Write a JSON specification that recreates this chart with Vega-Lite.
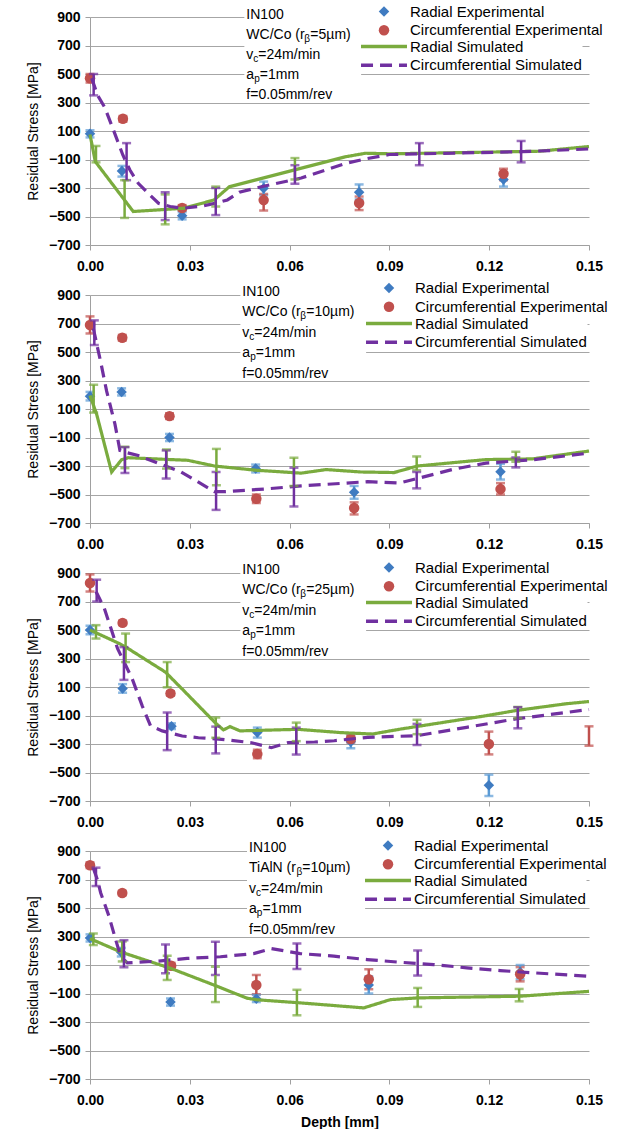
{
  "$schema": "https://vega.github.io/schema/vega-lite/v6.json",
  "padding": {"left": 26, "top": 4, "right": 0, "bottom": 0},
  "background": "white",
  "bounds": "flush",
  "spacing": 50,
  "datasets": {
    "points": [
      {"panel":1,"series":"Radial Experimental","depth":0,"stress":80},
      {"panel":1,"series":"Radial Experimental","depth":0.0096,"stress":-180},
      {"panel":1,"series":"Radial Experimental","depth":0.0277,"stress":-495},
      {"panel":1,"series":"Radial Experimental","depth":0.0522,"stress":-302},
      {"panel":1,"series":"Radial Experimental","depth":0.0809,"stress":-330},
      {"panel":1,"series":"Radial Experimental","depth":0.1243,"stress":-240},
      {"panel":1,"series":"Circumferential Experimental","depth":0,"stress":470},
      {"panel":1,"series":"Circumferential Experimental","depth":0.0099,"stress":186},
      {"panel":1,"series":"Circumferential Experimental","depth":0.0277,"stress":-440},
      {"panel":1,"series":"Circumferential Experimental","depth":0.0522,"stress":-385},
      {"panel":1,"series":"Circumferential Experimental","depth":0.0809,"stress":-405},
      {"panel":1,"series":"Circumferential Experimental","depth":0.1243,"stress":-200},
      {"panel":2,"series":"Radial Experimental","depth":0,"stress":190},
      {"panel":2,"series":"Radial Experimental","depth":0.0095,"stress":220},
      {"panel":2,"series":"Radial Experimental","depth":0.0239,"stress":-100},
      {"panel":2,"series":"Radial Experimental","depth":0.0498,"stress":-318},
      {"panel":2,"series":"Radial Experimental","depth":0.0794,"stress":-485},
      {"panel":2,"series":"Radial Experimental","depth":0.1234,"stress":-340},
      {"panel":2,"series":"Circumferential Experimental","depth":0,"stress":690},
      {"panel":2,"series":"Circumferential Experimental","depth":0.0097,"stress":600},
      {"panel":2,"series":"Circumferential Experimental","depth":0.0239,"stress":50},
      {"panel":2,"series":"Circumferential Experimental","depth":0.05,"stress":-530},
      {"panel":2,"series":"Circumferential Experimental","depth":0.0794,"stress":-595},
      {"panel":2,"series":"Circumferential Experimental","depth":0.1234,"stress":-462},
      {"panel":3,"series":"Radial Experimental","depth":0,"stress":500},
      {"panel":3,"series":"Radial Experimental","depth":0.0098,"stress":90},
      {"panel":3,"series":"Radial Experimental","depth":0.0245,"stress":-175},
      {"panel":3,"series":"Radial Experimental","depth":0.0503,"stress":-220},
      {"panel":3,"series":"Radial Experimental","depth":0.0784,"stress":-285},
      {"panel":3,"series":"Radial Experimental","depth":0.1199,"stress":-590},
      {"panel":3,"series":"Circumferential Experimental","depth":0,"stress":830},
      {"panel":3,"series":"Circumferential Experimental","depth":0.0098,"stress":550},
      {"panel":3,"series":"Circumferential Experimental","depth":0.0242,"stress":55},
      {"panel":3,"series":"Circumferential Experimental","depth":0.0503,"stress":-370},
      {"panel":3,"series":"Circumferential Experimental","depth":0.0784,"stress":-265},
      {"panel":3,"series":"Circumferential Experimental","depth":0.1199,"stress":-300},
      {"panel":4,"series":"Radial Experimental","depth":0,"stress":290},
      {"panel":4,"series":"Radial Experimental","depth":0.0094,"stress":190},
      {"panel":4,"series":"Radial Experimental","depth":0.0242,"stress":-160},
      {"panel":4,"series":"Radial Experimental","depth":0.05,"stress":-137},
      {"panel":4,"series":"Radial Experimental","depth":0.0838,"stress":-40},
      {"panel":4,"series":"Radial Experimental","depth":0.1293,"stress":50},
      {"panel":4,"series":"Circumferential Experimental","depth":0,"stress":800},
      {"panel":4,"series":"Circumferential Experimental","depth":0.0097,"stress":605},
      {"panel":4,"series":"Circumferential Experimental","depth":0.0244,"stress":95},
      {"panel":4,"series":"Circumferential Experimental","depth":0.05,"stress":-40},
      {"panel":4,"series":"Circumferential Experimental","depth":0.0838,"stress":0},
      {"panel":4,"series":"Circumferential Experimental","depth":0.1293,"stress":35}
    ],
    "errs": [
      {"panel":1,"series":"Radial Experimental","depth":0,"lo":55,"hi":105},
      {"panel":1,"series":"Radial Experimental","depth":0.0096,"lo":-220,"hi":-145},
      {"panel":1,"series":"Radial Experimental","depth":0.0277,"lo":-520,"hi":-470},
      {"panel":1,"series":"Radial Experimental","depth":0.0522,"lo":-350,"hi":-255},
      {"panel":1,"series":"Radial Experimental","depth":0.0809,"lo":-380,"hi":-275},
      {"panel":1,"series":"Radial Experimental","depth":0.1243,"lo":-290,"hi":-190},
      {"panel":1,"series":"Circumferential Experimental","depth":0,"lo":440,"hi":500},
      {"panel":1,"series":"Circumferential Experimental","depth":0.0099,"lo":165,"hi":205},
      {"panel":1,"series":"Circumferential Experimental","depth":0.0277,"lo":-460,"hi":-420},
      {"panel":1,"series":"Circumferential Experimental","depth":0.0522,"lo":-458,"hi":-342},
      {"panel":1,"series":"Circumferential Experimental","depth":0.0809,"lo":-455,"hi":-360},
      {"panel":1,"series":"Circumferential Experimental","depth":0.1243,"lo":-245,"hi":-165},
      {"panel":1,"series":"Radial Simulated","depth":0.0018,"lo":-120,"hi":-5},
      {"panel":1,"series":"Radial Simulated","depth":0.0104,"lo":-510,"hi":-245},
      {"panel":1,"series":"Radial Simulated","depth":0.0226,"lo":-555,"hi":-345},
      {"panel":1,"series":"Radial Simulated","depth":0.0378,"lo":-430,"hi":-290},
      {"panel":1,"series":"Radial Simulated","depth":0.0616,"lo":-240,"hi":-90},
      {"panel":1,"series":"Circumferential Simulated","depth":0.0011,"lo":350,"hi":500},
      {"panel":1,"series":"Circumferential Simulated","depth":0.011,"lo":-245,"hi":15},
      {"panel":1,"series":"Circumferential Simulated","depth":0.0226,"lo":-525,"hi":-330},
      {"panel":1,"series":"Circumferential Simulated","depth":0.0378,"lo":-490,"hi":-300},
      {"panel":1,"series":"Circumferential Simulated","depth":0.0616,"lo":-270,"hi":-140},
      {"panel":1,"series":"Circumferential Simulated","depth":0.099,"lo":-140,"hi":15},
      {"panel":1,"series":"Circumferential Simulated","depth":0.1296,"lo":-120,"hi":30},
      {"panel":2,"series":"Radial Experimental","depth":0,"lo":160,"hi":220},
      {"panel":2,"series":"Radial Experimental","depth":0.0095,"lo":195,"hi":245},
      {"panel":2,"series":"Radial Experimental","depth":0.0239,"lo":-125,"hi":-75},
      {"panel":2,"series":"Radial Experimental","depth":0.0498,"lo":-345,"hi":-290},
      {"panel":2,"series":"Radial Experimental","depth":0.0794,"lo":-530,"hi":-440},
      {"panel":2,"series":"Radial Experimental","depth":0.1234,"lo":-395,"hi":-285},
      {"panel":2,"series":"Circumferential Experimental","depth":0,"lo":630,"hi":750},
      {"panel":2,"series":"Circumferential Experimental","depth":0.0097,"lo":580,"hi":620},
      {"panel":2,"series":"Circumferential Experimental","depth":0.0239,"lo":30,"hi":70},
      {"panel":2,"series":"Circumferential Experimental","depth":0.05,"lo":-560,"hi":-500},
      {"panel":2,"series":"Circumferential Experimental","depth":0.0794,"lo":-640,"hi":-555},
      {"panel":2,"series":"Circumferential Experimental","depth":0.1234,"lo":-500,"hi":-420},
      {"panel":2,"series":"Radial Simulated","depth":0.0011,"lo":75,"hi":270},
      {"panel":2,"series":"Radial Simulated","depth":0.0105,"lo":-315,"hi":-165},
      {"panel":2,"series":"Radial Simulated","depth":0.023,"lo":-318,"hi":-184},
      {"panel":2,"series":"Radial Simulated","depth":0.038,"lo":-435,"hi":-180},
      {"panel":2,"series":"Radial Simulated","depth":0.0613,"lo":-440,"hi":-242},
      {"panel":2,"series":"Radial Simulated","depth":0.0982,"lo":-330,"hi":-233},
      {"panel":2,"series":"Radial Simulated","depth":0.128,"lo":-270,"hi":-200},
      {"panel":2,"series":"Circumferential Simulated","depth":0.0013,"lo":549,"hi":722},
      {"panel":2,"series":"Circumferential Simulated","depth":0.0105,"lo":-349,"hi":-168},
      {"panel":2,"series":"Circumferential Simulated","depth":0.0229,"lo":-388,"hi":-191},
      {"panel":2,"series":"Circumferential Simulated","depth":0.0379,"lo":-608,"hi":-342},
      {"panel":2,"series":"Circumferential Simulated","depth":0.0613,"lo":-584,"hi":-312},
      {"panel":2,"series":"Circumferential Simulated","depth":0.0982,"lo":-457,"hi":-342},
      {"panel":2,"series":"Circumferential Simulated","depth":0.128,"lo":-310,"hi":-240},
      {"panel":3,"series":"Radial Experimental","depth":0,"lo":470,"hi":530},
      {"panel":3,"series":"Radial Experimental","depth":0.0098,"lo":60,"hi":120},
      {"panel":3,"series":"Radial Experimental","depth":0.0245,"lo":-195,"hi":-155},
      {"panel":3,"series":"Radial Experimental","depth":0.0503,"lo":-255,"hi":-185},
      {"panel":3,"series":"Radial Experimental","depth":0.0784,"lo":-330,"hi":-240},
      {"panel":3,"series":"Radial Experimental","depth":0.1199,"lo":-665,"hi":-515},
      {"panel":3,"series":"Circumferential Experimental","depth":0,"lo":770,"hi":890},
      {"panel":3,"series":"Circumferential Experimental","depth":0.0098,"lo":535,"hi":565},
      {"panel":3,"series":"Circumferential Experimental","depth":0.0242,"lo":40,"hi":70},
      {"panel":3,"series":"Circumferential Experimental","depth":0.0503,"lo":-400,"hi":-340},
      {"panel":3,"series":"Circumferential Experimental","depth":0.0784,"lo":-290,"hi":-240},
      {"panel":3,"series":"Circumferential Experimental","depth":0.1199,"lo":-373,"hi":-213},
      {"panel":3,"series":"Circumferential Experimental","depth":0.15,"lo":-312,"hi":-176},
      {"panel":3,"series":"Radial Simulated","depth":0.0018,"lo":440,"hi":534},
      {"panel":3,"series":"Radial Simulated","depth":0.0107,"lo":275,"hi":475},
      {"panel":3,"series":"Radial Simulated","depth":0.0232,"lo":98,"hi":275},
      {"panel":3,"series":"Radial Simulated","depth":0.0378,"lo":-256,"hi":-114},
      {"panel":3,"series":"Radial Simulated","depth":0.062,"lo":-280,"hi":-150},
      {"panel":3,"series":"Radial Simulated","depth":0.0983,"lo":-231,"hi":-130},
      {"panel":3,"series":"Radial Simulated","depth":0.1286,"lo":-120,"hi":-40},
      {"panel":3,"series":"Circumferential Simulated","depth":0.002,"lo":700,"hi":853},
      {"panel":3,"series":"Circumferential Simulated","depth":0.0102,"lo":150,"hi":380},
      {"panel":3,"series":"Circumferential Simulated","depth":0.0232,"lo":-343,"hi":-79},
      {"panel":3,"series":"Circumferential Simulated","depth":0.0378,"lo":-366,"hi":-178},
      {"panel":3,"series":"Circumferential Simulated","depth":0.062,"lo":-374,"hi":-185},
      {"panel":3,"series":"Circumferential Simulated","depth":0.0983,"lo":-307,"hi":-159},
      {"panel":3,"series":"Circumferential Simulated","depth":0.1286,"lo":-190,"hi":-42},
      {"panel":4,"series":"Radial Experimental","depth":0,"lo":265,"hi":315},
      {"panel":4,"series":"Radial Experimental","depth":0.0094,"lo":160,"hi":220},
      {"panel":4,"series":"Radial Experimental","depth":0.0242,"lo":-185,"hi":-135},
      {"panel":4,"series":"Radial Experimental","depth":0.05,"lo":-160,"hi":-110},
      {"panel":4,"series":"Radial Experimental","depth":0.0838,"lo":-100,"hi":20},
      {"panel":4,"series":"Radial Experimental","depth":0.1293,"lo":0,"hi":100},
      {"panel":4,"series":"Circumferential Experimental","depth":0,"lo":780,"hi":820},
      {"panel":4,"series":"Circumferential Experimental","depth":0.0097,"lo":590,"hi":620},
      {"panel":4,"series":"Circumferential Experimental","depth":0.0244,"lo":75,"hi":115},
      {"panel":4,"series":"Circumferential Experimental","depth":0.05,"lo":-105,"hi":30},
      {"panel":4,"series":"Circumferential Experimental","depth":0.0838,"lo":-70,"hi":70},
      {"panel":4,"series":"Circumferential Experimental","depth":0.1293,"lo":-15,"hi":85},
      {"panel":4,"series":"Radial Simulated","depth":0.001,"lo":240,"hi":321},
      {"panel":4,"series":"Radial Simulated","depth":0.0097,"lo":125,"hi":265},
      {"panel":4,"series":"Radial Simulated","depth":0.0232,"lo":-5,"hi":165},
      {"panel":4,"series":"Radial Simulated","depth":0.0377,"lo":-160,"hi":88},
      {"panel":4,"series":"Radial Simulated","depth":0.0622,"lo":-253,"hi":-74},
      {"panel":4,"series":"Radial Simulated","depth":0.0985,"lo":-194,"hi":-61},
      {"panel":4,"series":"Radial Simulated","depth":0.129,"lo":-155,"hi":-68},
      {"panel":4,"series":"Circumferential Simulated","depth":0.0018,"lo":654,"hi":783},
      {"panel":4,"series":"Circumferential Simulated","depth":0.0102,"lo":84,"hi":274},
      {"panel":4,"series":"Circumferential Simulated","depth":0.0227,"lo":42,"hi":244},
      {"panel":4,"series":"Circumferential Simulated","depth":0.0377,"lo":30,"hi":263},
      {"panel":4,"series":"Circumferential Simulated","depth":0.0622,"lo":72,"hi":251},
      {"panel":4,"series":"Circumferential Simulated","depth":0.0985,"lo":26,"hi":202}
    ],
    "lines": [
      {"panel":1,"series":"Radial Simulated","depth":0,"stress":75},
      {"panel":1,"series":"Radial Simulated","depth":0.0016,"stress":-115},
      {"panel":1,"series":"Radial Simulated","depth":0.013,"stress":-465},
      {"panel":1,"series":"Radial Simulated","depth":0.0282,"stress":-442},
      {"panel":1,"series":"Radial Simulated","depth":0.0373,"stress":-384},
      {"panel":1,"series":"Radial Simulated","depth":0.0419,"stress":-291},
      {"panel":1,"series":"Radial Simulated","depth":0.0768,"stress":-81},
      {"panel":1,"series":"Radial Simulated","depth":0.0828,"stress":-56},
      {"panel":1,"series":"Radial Simulated","depth":0.0905,"stress":-60},
      {"panel":1,"series":"Radial Simulated","depth":0.135,"stress":-42},
      {"panel":1,"series":"Radial Simulated","depth":0.15,"stress":-9},
      {"panel":1,"series":"Circumferential Simulated","depth":0.0005,"stress":470},
      {"panel":1,"series":"Circumferential Simulated","depth":0.0023,"stress":350},
      {"panel":1,"series":"Circumferential Simulated","depth":0.0044,"stress":267},
      {"panel":1,"series":"Circumferential Simulated","depth":0.0069,"stress":116},
      {"panel":1,"series":"Circumferential Simulated","depth":0.0099,"stress":-70},
      {"panel":1,"series":"Circumferential Simulated","depth":0.012,"stress":-174},
      {"panel":1,"series":"Circumferential Simulated","depth":0.0145,"stress":-267},
      {"panel":1,"series":"Circumferential Simulated","depth":0.018,"stress":-349},
      {"panel":1,"series":"Circumferential Simulated","depth":0.0206,"stress":-407},
      {"panel":1,"series":"Circumferential Simulated","depth":0.0241,"stress":-430},
      {"panel":1,"series":"Circumferential Simulated","depth":0.028,"stress":-442},
      {"panel":1,"series":"Circumferential Simulated","depth":0.034,"stress":-426},
      {"panel":1,"series":"Circumferential Simulated","depth":0.038,"stress":-405},
      {"panel":1,"series":"Circumferential Simulated","depth":0.0413,"stress":-384},
      {"panel":1,"series":"Circumferential Simulated","depth":0.0449,"stress":-330},
      {"panel":1,"series":"Circumferential Simulated","depth":0.0515,"stress":-291},
      {"panel":1,"series":"Circumferential Simulated","depth":0.0635,"stress":-230},
      {"panel":1,"series":"Circumferential Simulated","depth":0.0768,"stress":-128},
      {"panel":1,"series":"Circumferential Simulated","depth":0.0828,"stress":-96},
      {"panel":1,"series":"Circumferential Simulated","depth":0.09,"stress":-65},
      {"panel":1,"series":"Circumferential Simulated","depth":0.13,"stress":-45},
      {"panel":1,"series":"Circumferential Simulated","depth":0.15,"stress":-26},
      {"panel":2,"series":"Radial Simulated","depth":0,"stress":195},
      {"panel":2,"series":"Radial Simulated","depth":0.002,"stress":63},
      {"panel":2,"series":"Radial Simulated","depth":0.0065,"stress":-342},
      {"panel":2,"series":"Radial Simulated","depth":0.0095,"stress":-256},
      {"panel":2,"series":"Radial Simulated","depth":0.0115,"stress":-242},
      {"panel":2,"series":"Radial Simulated","depth":0.0294,"stress":-260},
      {"panel":2,"series":"Radial Simulated","depth":0.0374,"stress":-300},
      {"panel":2,"series":"Radial Simulated","depth":0.05,"stress":-330},
      {"panel":2,"series":"Radial Simulated","depth":0.0635,"stress":-350},
      {"panel":2,"series":"Radial Simulated","depth":0.071,"stress":-325},
      {"panel":2,"series":"Radial Simulated","depth":0.0814,"stress":-342},
      {"panel":2,"series":"Radial Simulated","depth":0.0914,"stress":-346},
      {"panel":2,"series":"Radial Simulated","depth":0.0984,"stress":-300},
      {"panel":2,"series":"Radial Simulated","depth":0.119,"stress":-255},
      {"panel":2,"series":"Radial Simulated","depth":0.133,"stress":-250},
      {"panel":2,"series":"Radial Simulated","depth":0.15,"stress":-195},
      {"panel":2,"series":"Circumferential Simulated","depth":0.001,"stress":665},
      {"panel":2,"series":"Circumferential Simulated","depth":0.0033,"stress":421},
      {"panel":2,"series":"Circumferential Simulated","depth":0.005,"stress":225},
      {"panel":2,"series":"Circumferential Simulated","depth":0.0075,"stress":-6},
      {"panel":2,"series":"Circumferential Simulated","depth":0.009,"stress":-191},
      {"panel":2,"series":"Circumferential Simulated","depth":0.0105,"stress":-203},
      {"panel":2,"series":"Circumferential Simulated","depth":0.0145,"stress":-226},
      {"panel":2,"series":"Circumferential Simulated","depth":0.0209,"stress":-284},
      {"panel":2,"series":"Circumferential Simulated","depth":0.0274,"stress":-342},
      {"panel":2,"series":"Circumferential Simulated","depth":0.0374,"stress":-480},
      {"panel":2,"series":"Circumferential Simulated","depth":0.0404,"stress":-480},
      {"panel":2,"series":"Circumferential Simulated","depth":0.0533,"stress":-460},
      {"panel":2,"series":"Circumferential Simulated","depth":0.0635,"stress":-440},
      {"panel":2,"series":"Circumferential Simulated","depth":0.0835,"stress":-410},
      {"panel":2,"series":"Circumferential Simulated","depth":0.093,"stress":-420},
      {"panel":2,"series":"Circumferential Simulated","depth":0.0975,"stress":-393},
      {"panel":2,"series":"Circumferential Simulated","depth":0.109,"stress":-324},
      {"panel":2,"series":"Circumferential Simulated","depth":0.119,"stress":-280},
      {"panel":2,"series":"Circumferential Simulated","depth":0.133,"stress":-256},
      {"panel":2,"series":"Circumferential Simulated","depth":0.15,"stress":-210},
      {"panel":3,"series":"Radial Simulated","depth":0,"stress":500},
      {"panel":3,"series":"Radial Simulated","depth":0.0088,"stress":405},
      {"panel":3,"series":"Radial Simulated","depth":0.0107,"stress":381},
      {"panel":3,"series":"Radial Simulated","depth":0.0227,"stress":204},
      {"panel":3,"series":"Radial Simulated","depth":0.0277,"stress":86},
      {"panel":3,"series":"Radial Simulated","depth":0.0376,"stress":-150},
      {"panel":3,"series":"Radial Simulated","depth":0.0401,"stress":-201},
      {"panel":3,"series":"Radial Simulated","depth":0.0421,"stress":-178},
      {"panel":3,"series":"Radial Simulated","depth":0.0451,"stress":-208},
      {"panel":3,"series":"Radial Simulated","depth":0.0625,"stress":-197},
      {"panel":3,"series":"Radial Simulated","depth":0.0754,"stress":-220},
      {"panel":3,"series":"Radial Simulated","depth":0.0849,"stress":-230},
      {"panel":3,"series":"Radial Simulated","depth":0.0934,"stress":-195},
      {"panel":3,"series":"Radial Simulated","depth":0.1192,"stress":-101},
      {"panel":3,"series":"Radial Simulated","depth":0.1281,"stress":-65},
      {"panel":3,"series":"Radial Simulated","depth":0.143,"stress":-18},
      {"panel":3,"series":"Radial Simulated","depth":0.15,"stress":-2},
      {"panel":3,"series":"Circumferential Simulated","depth":0.0018,"stress":770},
      {"panel":3,"series":"Circumferential Simulated","depth":0.0043,"stress":652},
      {"panel":3,"series":"Circumferential Simulated","depth":0.0083,"stress":369},
      {"panel":3,"series":"Circumferential Simulated","depth":0.0127,"stress":157},
      {"panel":3,"series":"Circumferential Simulated","depth":0.0157,"stress":-32},
      {"panel":3,"series":"Circumferential Simulated","depth":0.0182,"stress":-173},
      {"panel":3,"series":"Circumferential Simulated","depth":0.0217,"stress":-208},
      {"panel":3,"series":"Circumferential Simulated","depth":0.0277,"stress":-244},
      {"panel":3,"series":"Circumferential Simulated","depth":0.0326,"stress":-256},
      {"panel":3,"series":"Circumferential Simulated","depth":0.0396,"stress":-267},
      {"panel":3,"series":"Circumferential Simulated","depth":0.0486,"stress":-291},
      {"panel":3,"series":"Circumferential Simulated","depth":0.0545,"stress":-326},
      {"panel":3,"series":"Circumferential Simulated","depth":0.0595,"stress":-291},
      {"panel":3,"series":"Circumferential Simulated","depth":0.0675,"stress":-286},
      {"panel":3,"series":"Circumferential Simulated","depth":0.0734,"stress":-277},
      {"panel":3,"series":"Circumferential Simulated","depth":0.0834,"stress":-253},
      {"panel":3,"series":"Circumferential Simulated","depth":0.0983,"stress":-242},
      {"panel":3,"series":"Circumferential Simulated","depth":0.1132,"stress":-183},
      {"panel":3,"series":"Circumferential Simulated","depth":0.128,"stress":-124},
      {"panel":3,"series":"Circumferential Simulated","depth":0.15,"stress":-58},
      {"panel":4,"series":"Radial Simulated","depth":0,"stress":285},
      {"panel":4,"series":"Radial Simulated","depth":0.0094,"stress":190},
      {"panel":4,"series":"Radial Simulated","depth":0.0242,"stress":77},
      {"panel":4,"series":"Radial Simulated","depth":0.0372,"stress":-40},
      {"panel":4,"series":"Radial Simulated","depth":0.0472,"stress":-133},
      {"panel":4,"series":"Radial Simulated","depth":0.0502,"stress":-144},
      {"panel":4,"series":"Radial Simulated","depth":0.0633,"stress":-166},
      {"panel":4,"series":"Radial Simulated","depth":0.0823,"stress":-201},
      {"panel":4,"series":"Radial Simulated","depth":0.0903,"stress":-143},
      {"panel":4,"series":"Radial Simulated","depth":0.0983,"stress":-131},
      {"panel":4,"series":"Radial Simulated","depth":0.1293,"stress":-119},
      {"panel":4,"series":"Radial Simulated","depth":0.15,"stress":-85},
      {"panel":4,"series":"Circumferential Simulated","depth":0.001,"stress":780},
      {"panel":4,"series":"Circumferential Simulated","depth":0.0022,"stress":700},
      {"panel":4,"series":"Circumferential Simulated","depth":0.0032,"stress":607},
      {"panel":4,"series":"Circumferential Simulated","depth":0.0057,"stress":443},
      {"panel":4,"series":"Circumferential Simulated","depth":0.0077,"stress":279},
      {"panel":4,"series":"Circumferential Simulated","depth":0.0092,"stress":162},
      {"panel":4,"series":"Circumferential Simulated","depth":0.0112,"stress":115},
      {"panel":4,"series":"Circumferential Simulated","depth":0.0202,"stress":127},
      {"panel":4,"series":"Circumferential Simulated","depth":0.0292,"stress":146},
      {"panel":4,"series":"Circumferential Simulated","depth":0.0392,"stress":158},
      {"panel":4,"series":"Circumferential Simulated","depth":0.0492,"stress":180},
      {"panel":4,"series":"Circumferential Simulated","depth":0.0545,"stress":215},
      {"panel":4,"series":"Circumferential Simulated","depth":0.0632,"stress":180},
      {"panel":4,"series":"Circumferential Simulated","depth":0.0733,"stress":162},
      {"panel":4,"series":"Circumferential Simulated","depth":0.0833,"stress":138},
      {"panel":4,"series":"Circumferential Simulated","depth":0.0933,"stress":119},
      {"panel":4,"series":"Circumferential Simulated","depth":0.1033,"stress":103},
      {"panel":4,"series":"Circumferential Simulated","depth":0.1133,"stress":80},
      {"panel":4,"series":"Circumferential Simulated","depth":0.1233,"stress":61},
      {"panel":4,"series":"Circumferential Simulated","depth":0.1333,"stress":45},
      {"panel":4,"series":"Circumferential Simulated","depth":0.15,"stress":21}
    ]
  },
  "vconcat": [
    {
      "width": 499, "height": 228,
      "layer": [
        {"data": {"values": [{}]}, "mark": {"type": "rect", "color": "white"},
         "encoding": {"x": {"datum": 0.0464, "type": "quantitative"}, "x2": {"datum": 0.0815}, "y": {"datum": 325, "type": "quantitative"}, "y2": {"datum": 915}}},
        {"data": {"values": [{}]}, "mark": {"type": "rect", "color": "white"},
         "encoding": {"x": {"datum": 0.081, "type": "quantitative"}, "x2": {"datum": 0.087}, "y": {"datum": 560, "type": "quantitative"}, "y2": {"datum": 915}}},
        {"data": {"name": "errs"}, "transform": [{"filter": "datum.panel == 1 && indexof(datum.series, 'Experimental') >= 0"}],
         "mark": {"type": "errorbar", "ticks": {"size": 9, "thickness": 2.5}, "rule": {"strokeWidth": 2.5}},
         "encoding": {
           "x": {"field": "depth", "type": "quantitative", "title": null, "scale": {"domain": [0, 0.15], "nice": false}, "axis": {"values": [0, 0.03, 0.06, 0.09, 0.12, 0.15], "format": ".2f", "labelOverlap": false, "labelFlush": false}},
           "y": {"field": "lo", "type": "quantitative", "title": "Residual Stress [MPa]", "scale": {"domain": [-700, 900], "nice": false}, "axis": {"values": [-700, -500, -300, -100, 100, 300, 500, 700, 900], "format": "d", "labelOverlap": false, "tickCount": 9}},
           "y2": {"field": "hi"},
           "color": {"field": "series", "type": "nominal", "legend": null, "scale": {"domain": ["Radial Experimental", "Circumferential Experimental", "Radial Simulated", "Circumferential Simulated"], "range": ["#5b9bd5", "#c0504d", "#7aab3e", "#7030a0"]}}}},
        {"data": {"name": "points"}, "transform": [{"filter": "datum.panel == 1"}],
         "mark": {"type": "point", "filled": true, "opacity": 1, "size": 110, "strokeWidth": 0},
         "encoding": {
           "x": {"field": "depth", "type": "quantitative", "title": null},
           "y": {"field": "stress", "type": "quantitative", "title": "Residual Stress [MPa]"},
           "fill": {"field": "series", "type": "nominal", "scale": {"domain": ["Radial Experimental", "Circumferential Experimental"], "range": ["#3f7bc1", "#c0504d"]}, "legend": {"orient": "none", "legendX": 286.5, "legendY": -13, "title": null, "symbolSize": 110, "symbolStrokeWidth": 0}},
           "shape": {"field": "series", "type": "nominal", "scale": {"domain": ["Radial Experimental", "Circumferential Experimental"], "range": ["diamond", "circle"]}, "legend": {"orient": "none", "legendX": 286.5, "legendY": -13, "title": null, "symbolSize": 110, "symbolStrokeWidth": 0}}}},
        {"data": {"name": "lines"}, "transform": [{"filter": "datum.panel == 1"}],
         "mark": {"type": "line", "strokeWidth": 3.2},
         "encoding": {
           "x": {"field": "depth", "type": "quantitative", "title": null},
           "y": {"field": "stress", "type": "quantitative", "title": "Residual Stress [MPa]"},
           "stroke": {"field": "series", "type": "nominal", "scale": {"domain": ["Radial Simulated", "Circumferential Simulated"], "range": ["#7aab3e", "#7030a0"]}, "legend": {"orient": "none", "legendX": 286.5, "legendY": 22, "title": null, "symbolType": "M-4,0H4", "symbolSize": 132, "symbolStrokeWidth": 3.5}},
           "strokeDash": {"field": "series", "type": "nominal", "scale": {"domain": ["Radial Simulated", "Circumferential Simulated"], "range": [[1, 0], [12, 7]]}, "legend": {"orient": "none", "legendX": 286.5, "legendY": 22, "title": null, "symbolType": "M-4,0H4", "symbolSize": 132, "symbolStrokeWidth": 3.5}}}},
        {"data": {"name": "errs"}, "transform": [{"filter": "datum.panel == 1 && indexof(datum.series, 'Simulated') >= 0"}],
         "mark": {"type": "errorbar", "ticks": {"size": 9, "thickness": 2.5}, "rule": {"strokeWidth": 2.5}},
         "encoding": {
           "x": {"field": "depth", "type": "quantitative", "title": null},
           "y": {"field": "lo", "type": "quantitative", "title": "Residual Stress [MPa]"},
           "y2": {"field": "hi"},
           "color": {"field": "series", "type": "nominal", "legend": null}}},
        {"data": {"values": [{}]}, "mark": {"type": "text", "text": ["IN100", "WC/Co (r", "v", "a", "f=0.05mm/rev"], "align": "left", "baseline": "alphabetic", "dy": 2, "lineHeight": 20, "fontSize": 14, "color": "black"},
         "encoding": {"x": {"datum": 0.047, "type": "quantitative"}, "y": {"datum": 900, "type": "quantitative"}}},
        {"data": {"values": [{}]}, "mark": {"type": "text", "text": "β", "align": "left", "baseline": "alphabetic", "dx": 58, "dy": 25, "fontSize": 10, "color": "black"},
         "encoding": {"x": {"datum": 0.047, "type": "quantitative"}, "y": {"datum": 900, "type": "quantitative"}}},
        {"data": {"values": [{}]}, "mark": {"type": "text", "text": "=5µm)", "align": "left", "baseline": "alphabetic", "dx": 64, "dy": 22, "fontSize": 14, "color": "black"},
         "encoding": {"x": {"datum": 0.047, "type": "quantitative"}, "y": {"datum": 900, "type": "quantitative"}}},
        {"data": {"values": [{}]}, "mark": {"type": "text", "text": "c", "align": "left", "baseline": "alphabetic", "dx": 7, "dy": 45, "fontSize": 10, "color": "black"},
         "encoding": {"x": {"datum": 0.047, "type": "quantitative"}, "y": {"datum": 900, "type": "quantitative"}}},
        {"data": {"values": [{}]}, "mark": {"type": "text", "text": "=24m/min", "align": "left", "baseline": "alphabetic", "dx": 12, "dy": 42, "fontSize": 14, "color": "black"},
         "encoding": {"x": {"datum": 0.047, "type": "quantitative"}, "y": {"datum": 900, "type": "quantitative"}}},
        {"data": {"values": [{}]}, "mark": {"type": "text", "text": "p", "align": "left", "baseline": "alphabetic", "dx": 7.8, "dy": 65, "fontSize": 10, "color": "black"},
         "encoding": {"x": {"datum": 0.047, "type": "quantitative"}, "y": {"datum": 900, "type": "quantitative"}}},
        {"data": {"values": [{}]}, "mark": {"type": "text", "text": "=1mm", "align": "left", "baseline": "alphabetic", "dx": 13.4, "dy": 62, "fontSize": 14, "color": "black"},
         "encoding": {"x": {"datum": 0.047, "type": "quantitative"}, "y": {"datum": 900, "type": "quantitative"}}}
      ]
    },
    {
      "width": 499, "height": 228,
      "layer": [
        {"data": {"values": [{}]}, "mark": {"type": "rect", "color": "white"},
         "encoding": {"x": {"datum": 0.0452, "type": "quantitative"}, "x2": {"datum": 0.083}, "y": {"datum": 325, "type": "quantitative"}, "y2": {"datum": 915}}},
        {"data": {"values": [{}]}, "mark": {"type": "rect", "color": "white"},
         "encoding": {"x": {"datum": 0.0825, "type": "quantitative"}, "x2": {"datum": 0.0885}, "y": {"datum": 560, "type": "quantitative"}, "y2": {"datum": 915}}},
        {"data": {"name": "errs"}, "transform": [{"filter": "datum.panel == 2 && indexof(datum.series, 'Experimental') >= 0"}],
         "mark": {"type": "errorbar", "ticks": {"size": 9, "thickness": 2.5}, "rule": {"strokeWidth": 2.5}},
         "encoding": {
           "x": {"field": "depth", "type": "quantitative", "title": null, "scale": {"domain": [0, 0.15], "nice": false}, "axis": {"values": [0, 0.03, 0.06, 0.09, 0.12, 0.15], "format": ".2f", "labelOverlap": false, "labelFlush": false}},
           "y": {"field": "lo", "type": "quantitative", "title": "Residual Stress [MPa]", "scale": {"domain": [-700, 900], "nice": false}, "axis": {"values": [-700, -500, -300, -100, 100, 300, 500, 700, 900], "format": "d", "labelOverlap": false, "tickCount": 9}},
           "y2": {"field": "hi"},
           "color": {"field": "series", "type": "nominal", "legend": null, "scale": {"domain": ["Radial Experimental", "Circumferential Experimental", "Radial Simulated", "Circumferential Simulated"], "range": ["#5b9bd5", "#c0504d", "#7aab3e", "#7030a0"]}}}},
        {"data": {"name": "points"}, "transform": [{"filter": "datum.panel == 2"}],
         "mark": {"type": "point", "filled": true, "opacity": 1, "size": 110, "strokeWidth": 0},
         "encoding": {
           "x": {"field": "depth", "type": "quantitative", "title": null},
           "y": {"field": "stress", "type": "quantitative", "title": "Residual Stress [MPa]"},
           "fill": {"field": "series", "type": "nominal", "scale": {"domain": ["Radial Experimental", "Circumferential Experimental"], "range": ["#3f7bc1", "#c0504d"]}, "legend": {"orient": "none", "legendX": 291.5, "legendY": -14.5, "title": null, "symbolSize": 110, "symbolStrokeWidth": 0}},
           "shape": {"field": "series", "type": "nominal", "scale": {"domain": ["Radial Experimental", "Circumferential Experimental"], "range": ["diamond", "circle"]}, "legend": {"orient": "none", "legendX": 291.5, "legendY": -14.5, "title": null, "symbolSize": 110, "symbolStrokeWidth": 0}}}},
        {"data": {"name": "lines"}, "transform": [{"filter": "datum.panel == 2"}],
         "mark": {"type": "line", "strokeWidth": 3.2},
         "encoding": {
           "x": {"field": "depth", "type": "quantitative", "title": null},
           "y": {"field": "stress", "type": "quantitative", "title": "Residual Stress [MPa]"},
           "stroke": {"field": "series", "type": "nominal", "scale": {"domain": ["Radial Simulated", "Circumferential Simulated"], "range": ["#7aab3e", "#7030a0"]}, "legend": {"orient": "none", "legendX": 291.5, "legendY": 21, "title": null, "symbolType": "M-4,0H4", "symbolSize": 132, "symbolStrokeWidth": 3.5}},
           "strokeDash": {"field": "series", "type": "nominal", "scale": {"domain": ["Radial Simulated", "Circumferential Simulated"], "range": [[1, 0], [12, 7]]}, "legend": {"orient": "none", "legendX": 291.5, "legendY": 21, "title": null, "symbolType": "M-4,0H4", "symbolSize": 132, "symbolStrokeWidth": 3.5}}}},
        {"data": {"name": "errs"}, "transform": [{"filter": "datum.panel == 2 && indexof(datum.series, 'Simulated') >= 0"}],
         "mark": {"type": "errorbar", "ticks": {"size": 9, "thickness": 2.5}, "rule": {"strokeWidth": 2.5}},
         "encoding": {
           "x": {"field": "depth", "type": "quantitative", "title": null},
           "y": {"field": "lo", "type": "quantitative", "title": "Residual Stress [MPa]"},
           "y2": {"field": "hi"},
           "color": {"field": "series", "type": "nominal", "legend": null}}},
        {"data": {"values": [{}]}, "mark": {"type": "text", "text": ["IN100", "WC/Co (r", "v", "a", "f=0.05mm/rev"], "align": "left", "baseline": "alphabetic", "dy": 1, "lineHeight": 20.4, "fontSize": 14, "color": "black"},
         "encoding": {"x": {"datum": 0.0458, "type": "quantitative"}, "y": {"datum": 900, "type": "quantitative"}}},
        {"data": {"values": [{}]}, "mark": {"type": "text", "text": "β", "align": "left", "baseline": "alphabetic", "dx": 58, "dy": 24.4, "fontSize": 10, "color": "black"},
         "encoding": {"x": {"datum": 0.0458, "type": "quantitative"}, "y": {"datum": 900, "type": "quantitative"}}},
        {"data": {"values": [{}]}, "mark": {"type": "text", "text": "=10µm)", "align": "left", "baseline": "alphabetic", "dx": 64, "dy": 21.4, "fontSize": 14, "color": "black"},
         "encoding": {"x": {"datum": 0.0458, "type": "quantitative"}, "y": {"datum": 900, "type": "quantitative"}}},
        {"data": {"values": [{}]}, "mark": {"type": "text", "text": "c", "align": "left", "baseline": "alphabetic", "dx": 7, "dy": 44.8, "fontSize": 10, "color": "black"},
         "encoding": {"x": {"datum": 0.0458, "type": "quantitative"}, "y": {"datum": 900, "type": "quantitative"}}},
        {"data": {"values": [{}]}, "mark": {"type": "text", "text": "=24m/min", "align": "left", "baseline": "alphabetic", "dx": 12, "dy": 41.8, "fontSize": 14, "color": "black"},
         "encoding": {"x": {"datum": 0.0458, "type": "quantitative"}, "y": {"datum": 900, "type": "quantitative"}}},
        {"data": {"values": [{}]}, "mark": {"type": "text", "text": "p", "align": "left", "baseline": "alphabetic", "dx": 7.8, "dy": 65.2, "fontSize": 10, "color": "black"},
         "encoding": {"x": {"datum": 0.0458, "type": "quantitative"}, "y": {"datum": 900, "type": "quantitative"}}},
        {"data": {"values": [{}]}, "mark": {"type": "text", "text": "=1mm", "align": "left", "baseline": "alphabetic", "dx": 13.4, "dy": 62.2, "fontSize": 14, "color": "black"},
         "encoding": {"x": {"datum": 0.0458, "type": "quantitative"}, "y": {"datum": 900, "type": "quantitative"}}}
      ]
    },
    {
      "width": 499, "height": 228,
      "layer": [
        {"data": {"values": [{}]}, "mark": {"type": "rect", "color": "white"},
         "encoding": {"x": {"datum": 0.0452, "type": "quantitative"}, "x2": {"datum": 0.083}, "y": {"datum": 325, "type": "quantitative"}, "y2": {"datum": 915}}},
        {"data": {"values": [{}]}, "mark": {"type": "rect", "color": "white"},
         "encoding": {"x": {"datum": 0.0825, "type": "quantitative"}, "x2": {"datum": 0.0885}, "y": {"datum": 560, "type": "quantitative"}, "y2": {"datum": 915}}},
        {"data": {"name": "errs"}, "transform": [{"filter": "datum.panel == 3 && indexof(datum.series, 'Experimental') >= 0"}],
         "mark": {"type": "errorbar", "ticks": {"size": 9, "thickness": 2.5}, "rule": {"strokeWidth": 2.5}},
         "encoding": {
           "x": {"field": "depth", "type": "quantitative", "title": null, "scale": {"domain": [0, 0.15], "nice": false}, "axis": {"values": [0, 0.03, 0.06, 0.09, 0.12, 0.15], "format": ".2f", "labelOverlap": false, "labelFlush": false}},
           "y": {"field": "lo", "type": "quantitative", "title": "Residual Stress [MPa]", "scale": {"domain": [-700, 900], "nice": false}, "axis": {"values": [-700, -500, -300, -100, 100, 300, 500, 700, 900], "format": "d", "labelOverlap": false, "tickCount": 9}},
           "y2": {"field": "hi"},
           "color": {"field": "series", "type": "nominal", "legend": null, "scale": {"domain": ["Radial Experimental", "Circumferential Experimental", "Radial Simulated", "Circumferential Simulated"], "range": ["#5b9bd5", "#c0504d", "#7aab3e", "#7030a0"]}}}},
        {"data": {"name": "points"}, "transform": [{"filter": "datum.panel == 3"}],
         "mark": {"type": "point", "filled": true, "opacity": 1, "size": 110, "strokeWidth": 0},
         "encoding": {
           "x": {"field": "depth", "type": "quantitative", "title": null},
           "y": {"field": "stress", "type": "quantitative", "title": "Residual Stress [MPa]"},
           "fill": {"field": "series", "type": "nominal", "scale": {"domain": ["Radial Experimental", "Circumferential Experimental"], "range": ["#3f7bc1", "#c0504d"]}, "legend": {"orient": "none", "legendX": 291.5, "legendY": -13, "title": null, "symbolSize": 110, "symbolStrokeWidth": 0}},
           "shape": {"field": "series", "type": "nominal", "scale": {"domain": ["Radial Experimental", "Circumferential Experimental"], "range": ["diamond", "circle"]}, "legend": {"orient": "none", "legendX": 291.5, "legendY": -13, "title": null, "symbolSize": 110, "symbolStrokeWidth": 0}}}},
        {"data": {"name": "lines"}, "transform": [{"filter": "datum.panel == 3"}],
         "mark": {"type": "line", "strokeWidth": 3.2},
         "encoding": {
           "x": {"field": "depth", "type": "quantitative", "title": null},
           "y": {"field": "stress", "type": "quantitative", "title": "Residual Stress [MPa]"},
           "stroke": {"field": "series", "type": "nominal", "scale": {"domain": ["Radial Simulated", "Circumferential Simulated"], "range": ["#7aab3e", "#7030a0"]}, "legend": {"orient": "none", "legendX": 291.5, "legendY": 22, "title": null, "symbolType": "M-4,0H4", "symbolSize": 132, "symbolStrokeWidth": 3.5}},
           "strokeDash": {"field": "series", "type": "nominal", "scale": {"domain": ["Radial Simulated", "Circumferential Simulated"], "range": [[1, 0], [12, 7]]}, "legend": {"orient": "none", "legendX": 291.5, "legendY": 22, "title": null, "symbolType": "M-4,0H4", "symbolSize": 132, "symbolStrokeWidth": 3.5}}}},
        {"data": {"name": "errs"}, "transform": [{"filter": "datum.panel == 3 && indexof(datum.series, 'Simulated') >= 0"}],
         "mark": {"type": "errorbar", "ticks": {"size": 9, "thickness": 2.5}, "rule": {"strokeWidth": 2.5}},
         "encoding": {
           "x": {"field": "depth", "type": "quantitative", "title": null},
           "y": {"field": "lo", "type": "quantitative", "title": "Residual Stress [MPa]"},
           "y2": {"field": "hi"},
           "color": {"field": "series", "type": "nominal", "legend": null}}},
        {"data": {"values": [{}]}, "mark": {"type": "text", "text": ["IN100", "WC/Co (r", "v", "a", "f=0.05mm/rev"], "align": "left", "baseline": "alphabetic", "dy": 1, "lineHeight": 20.4, "fontSize": 14, "color": "black"},
         "encoding": {"x": {"datum": 0.0458, "type": "quantitative"}, "y": {"datum": 900, "type": "quantitative"}}},
        {"data": {"values": [{}]}, "mark": {"type": "text", "text": "β", "align": "left", "baseline": "alphabetic", "dx": 58, "dy": 24.4, "fontSize": 10, "color": "black"},
         "encoding": {"x": {"datum": 0.0458, "type": "quantitative"}, "y": {"datum": 900, "type": "quantitative"}}},
        {"data": {"values": [{}]}, "mark": {"type": "text", "text": "=25µm)", "align": "left", "baseline": "alphabetic", "dx": 64, "dy": 21.4, "fontSize": 14, "color": "black"},
         "encoding": {"x": {"datum": 0.0458, "type": "quantitative"}, "y": {"datum": 900, "type": "quantitative"}}},
        {"data": {"values": [{}]}, "mark": {"type": "text", "text": "c", "align": "left", "baseline": "alphabetic", "dx": 7, "dy": 44.8, "fontSize": 10, "color": "black"},
         "encoding": {"x": {"datum": 0.0458, "type": "quantitative"}, "y": {"datum": 900, "type": "quantitative"}}},
        {"data": {"values": [{}]}, "mark": {"type": "text", "text": "=24m/min", "align": "left", "baseline": "alphabetic", "dx": 12, "dy": 41.8, "fontSize": 14, "color": "black"},
         "encoding": {"x": {"datum": 0.0458, "type": "quantitative"}, "y": {"datum": 900, "type": "quantitative"}}},
        {"data": {"values": [{}]}, "mark": {"type": "text", "text": "p", "align": "left", "baseline": "alphabetic", "dx": 7.8, "dy": 65.2, "fontSize": 10, "color": "black"},
         "encoding": {"x": {"datum": 0.0458, "type": "quantitative"}, "y": {"datum": 900, "type": "quantitative"}}},
        {"data": {"values": [{}]}, "mark": {"type": "text", "text": "=1mm", "align": "left", "baseline": "alphabetic", "dx": 13.4, "dy": 62.2, "fontSize": 14, "color": "black"},
         "encoding": {"x": {"datum": 0.0458, "type": "quantitative"}, "y": {"datum": 900, "type": "quantitative"}}}
      ]
    },
    {
      "width": 499, "height": 228,
      "layer": [
        {"data": {"values": [{}]}, "mark": {"type": "rect", "color": "white"},
         "encoding": {"x": {"datum": 0.0472, "type": "quantitative"}, "x2": {"datum": 0.0827}, "y": {"datum": 325, "type": "quantitative"}, "y2": {"datum": 915}}},
        {"data": {"values": [{}]}, "mark": {"type": "rect", "color": "white"},
         "encoding": {"x": {"datum": 0.0822, "type": "quantitative"}, "x2": {"datum": 0.0882}, "y": {"datum": 560, "type": "quantitative"}, "y2": {"datum": 915}}},
        {"data": {"name": "errs"}, "transform": [{"filter": "datum.panel == 4 && indexof(datum.series, 'Experimental') >= 0"}],
         "mark": {"type": "errorbar", "ticks": {"size": 9, "thickness": 2.5}, "rule": {"strokeWidth": 2.5}},
         "encoding": {
           "x": {"field": "depth", "type": "quantitative", "title": "Depth [mm]", "scale": {"domain": [0, 0.15], "nice": false}, "axis": {"values": [0, 0.03, 0.06, 0.09, 0.12, 0.15], "format": ".2f", "labelOverlap": false, "labelFlush": false}},
           "y": {"field": "lo", "type": "quantitative", "title": "Residual Stress [MPa]", "scale": {"domain": [-700, 900], "nice": false}, "axis": {"values": [-700, -500, -300, -100, 100, 300, 500, 700, 900], "format": "d", "labelOverlap": false, "tickCount": 9}},
           "y2": {"field": "hi"},
           "color": {"field": "series", "type": "nominal", "legend": null, "scale": {"domain": ["Radial Experimental", "Circumferential Experimental", "Radial Simulated", "Circumferential Simulated"], "range": ["#5b9bd5", "#c0504d", "#7aab3e", "#7030a0"]}}}},
        {"data": {"name": "points"}, "transform": [{"filter": "datum.panel == 4"}],
         "mark": {"type": "point", "filled": true, "opacity": 1, "size": 110, "strokeWidth": 0},
         "encoding": {
           "x": {"field": "depth", "type": "quantitative", "title": "Depth [mm]"},
           "y": {"field": "stress", "type": "quantitative", "title": "Residual Stress [MPa]"},
           "fill": {"field": "series", "type": "nominal", "scale": {"domain": ["Radial Experimental", "Circumferential Experimental"], "range": ["#3f7bc1", "#c0504d"]}, "legend": {"orient": "none", "legendX": 290.5, "legendY": -13, "title": null, "symbolSize": 110, "symbolStrokeWidth": 0}},
           "shape": {"field": "series", "type": "nominal", "scale": {"domain": ["Radial Experimental", "Circumferential Experimental"], "range": ["diamond", "circle"]}, "legend": {"orient": "none", "legendX": 290.5, "legendY": -13, "title": null, "symbolSize": 110, "symbolStrokeWidth": 0}}}},
        {"data": {"name": "lines"}, "transform": [{"filter": "datum.panel == 4"}],
         "mark": {"type": "line", "strokeWidth": 3.2},
         "encoding": {
           "x": {"field": "depth", "type": "quantitative", "title": "Depth [mm]"},
           "y": {"field": "stress", "type": "quantitative", "title": "Residual Stress [MPa]"},
           "stroke": {"field": "series", "type": "nominal", "scale": {"domain": ["Radial Simulated", "Circumferential Simulated"], "range": ["#7aab3e", "#7030a0"]}, "legend": {"orient": "none", "legendX": 290.5, "legendY": 22, "title": null, "symbolType": "M-4,0H4", "symbolSize": 132, "symbolStrokeWidth": 3.5}},
           "strokeDash": {"field": "series", "type": "nominal", "scale": {"domain": ["Radial Simulated", "Circumferential Simulated"], "range": [[1, 0], [12, 7]]}, "legend": {"orient": "none", "legendX": 290.5, "legendY": 22, "title": null, "symbolType": "M-4,0H4", "symbolSize": 132, "symbolStrokeWidth": 3.5}}}},
        {"data": {"name": "errs"}, "transform": [{"filter": "datum.panel == 4 && indexof(datum.series, 'Simulated') >= 0"}],
         "mark": {"type": "errorbar", "ticks": {"size": 9, "thickness": 2.5}, "rule": {"strokeWidth": 2.5}},
         "encoding": {
           "x": {"field": "depth", "type": "quantitative", "title": "Depth [mm]"},
           "y": {"field": "lo", "type": "quantitative", "title": "Residual Stress [MPa]"},
           "y2": {"field": "hi"},
           "color": {"field": "series", "type": "nominal", "legend": null}}},
        {"data": {"values": [{}]}, "mark": {"type": "text", "text": ["IN100", "TiAlN (r", "v", "a", "f=0.05mm/rev"], "align": "left", "baseline": "alphabetic", "dy": 1, "lineHeight": 20.4, "fontSize": 14, "color": "black"},
         "encoding": {"x": {"datum": 0.0478, "type": "quantitative"}, "y": {"datum": 900, "type": "quantitative"}}},
        {"data": {"values": [{}]}, "mark": {"type": "text", "text": "β", "align": "left", "baseline": "alphabetic", "dx": 47.4, "dy": 24.4, "fontSize": 10, "color": "black"},
         "encoding": {"x": {"datum": 0.0478, "type": "quantitative"}, "y": {"datum": 900, "type": "quantitative"}}},
        {"data": {"values": [{}]}, "mark": {"type": "text", "text": "=10µm)", "align": "left", "baseline": "alphabetic", "dx": 53.2, "dy": 21.4, "fontSize": 14, "color": "black"},
         "encoding": {"x": {"datum": 0.0478, "type": "quantitative"}, "y": {"datum": 900, "type": "quantitative"}}},
        {"data": {"values": [{}]}, "mark": {"type": "text", "text": "c", "align": "left", "baseline": "alphabetic", "dx": 7, "dy": 44.8, "fontSize": 10, "color": "black"},
         "encoding": {"x": {"datum": 0.0478, "type": "quantitative"}, "y": {"datum": 900, "type": "quantitative"}}},
        {"data": {"values": [{}]}, "mark": {"type": "text", "text": "=24m/min", "align": "left", "baseline": "alphabetic", "dx": 12, "dy": 41.8, "fontSize": 14, "color": "black"},
         "encoding": {"x": {"datum": 0.0478, "type": "quantitative"}, "y": {"datum": 900, "type": "quantitative"}}},
        {"data": {"values": [{}]}, "mark": {"type": "text", "text": "p", "align": "left", "baseline": "alphabetic", "dx": 7.8, "dy": 65.2, "fontSize": 10, "color": "black"},
         "encoding": {"x": {"datum": 0.0478, "type": "quantitative"}, "y": {"datum": 900, "type": "quantitative"}}},
        {"data": {"values": [{}]}, "mark": {"type": "text", "text": "=1mm", "align": "left", "baseline": "alphabetic", "dx": 13.4, "dy": 62.2, "fontSize": 14, "color": "black"},
         "encoding": {"x": {"datum": 0.0478, "type": "quantitative"}, "y": {"datum": 900, "type": "quantitative"}}}
      ]
    }
  ],
  "resolve": {
    "scale": {"x": "independent", "y": "independent", "color": "independent", "fill": "independent", "shape": "independent", "stroke": "independent", "strokeDash": "independent"},
    "legend": {"color": "independent", "fill": "independent", "shape": "independent", "stroke": "independent", "strokeDash": "independent"}
  },
  "config": {
    "font": "Liberation Sans",
    "view": {"stroke": null},
    "axis": {"grid": false, "domainColor": "#a0a0a0", "tickColor": "#a0a0a0", "tickSize": 5, "labelColor": "#000000", "labelFontWeight": "bold", "titleColor": "#000000", "labelOverlap": false, "labelFlush": false},
    "axisY": {"grid": true, "gridColor": "#a6a6a6", "labelFontSize": 14, "labelPadding": 5, "titleFontSize": 14, "titleFontWeight": "normal", "titlePadding": 8, "labelOverlap": false},
    "axisX": {"labelFontSize": 14, "labelPadding": 9, "titleFontSize": 14, "titleFontWeight": "bold", "titlePadding": 8},
    "legend": {"fillColor": "white", "padding": 0, "rowPadding": 2.8, "labelFontSize": 15, "labelLimit": 300, "labelColor": "#000000", "labelOffset": 18.5}
  }
}
